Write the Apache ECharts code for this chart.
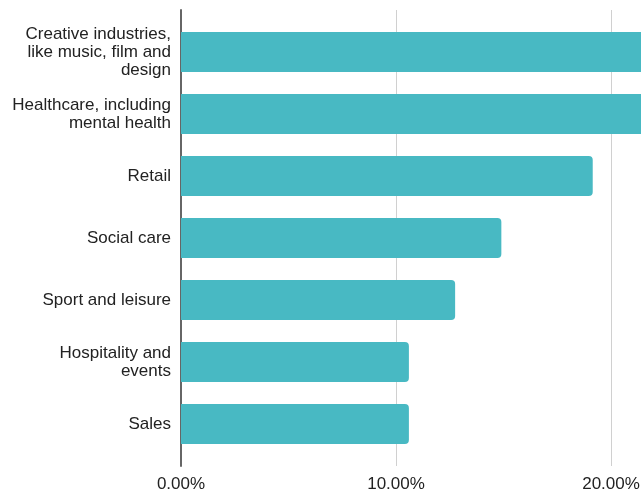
<!DOCTYPE html>
<html>
<head>
<meta charset="utf-8">
<script src="https://cdn.jsdelivr.net/npm/echarts@6/dist/echarts.min.js"></script>
<style>
  html, body { margin: 0; padding: 0; background: #fff; overflow: hidden; }
  #chart { width: 641px; height: 495px; }
</style>
</head>
<body>
<div id="chart"></div>
<script>
// sectors, top to bottom
var sectors = [
    'Creative industries,\nlike music, film and\ndesign',
    'Healthcare, including\nmental health',
    'Retail',
    'Social care',
    'Sport and leisure',
    'Hospitality and\nevents',
    'Sales'
];
// share of respondents (first two run off the right edge)
var shares = [0.245, 0.232, 0.1915, 0.149, 0.1275, 0.106, 0.106];
var tickStep = 0.1;

var myChart = echarts.init(document.getElementById('chart'));

var fmtPct = function (v) {
    return (v * 100).toFixed(2) + '%';
};

var option = {
    animation: false,
    textStyle: { fontFamily: 'Liberation Sans, Arial, sans-serif' },
    grid: [
        // grid for the axis lines and tick labels (slightly taller)
        { left: 181, width: 645, top: 10, bottom: 29, containLabel: false, outerBoundsMode: 'none' },
        // grid for the bars
        { left: 181, width: 645, top: 21, bottom: 40, containLabel: false, outerBoundsMode: 'none' }
    ],
    xAxis: [
        {
            gridIndex: 0,
            type: 'value',
            min: 0,
            max: 0.3,
            interval: tickStep,
            axisLine: { show: false },
            axisTick: { show: false },
            splitLine: { show: true, lineStyle: { color: '#d0d0d0', width: 1 } },
            axisLabel: {
                color: '#222',
                fontSize: 17,
                margin: 10,
                formatter: fmtPct
            }
        },
        {
            gridIndex: 1,
            type: 'value',
            min: 0,
            max: 0.3,
            interval: tickStep,
            show: false
        }
    ],
    yAxis: [
        {
            gridIndex: 0,
            type: 'category',
            data: sectors,
            inverse: true,
            axisLine: { show: true, lineStyle: { color: '#666', width: 2 } },
            axisTick: { show: false },
            axisLabel: { show: false }
        },
        {
            gridIndex: 1,
            type: 'category',
            data: sectors,
            inverse: true,
            axisLine: { show: false },
            axisTick: { show: false },
            axisLabel: {
                color: '#222',
                fontSize: 17,
                lineHeight: 18,
                margin: 10,
                align: 'right'
            }
        }
    ],
    series: [
        {
            type: 'bar',
            xAxisIndex: 1,
            yAxisIndex: 1,
            data: shares,
            barWidth: 40,
            itemStyle: {
                color: '#48b9c3',
                borderRadius: [0, 4, 4, 0]
            }
        }
    ]
};

myChart.setOption(option);
</script>
</body>
</html>
